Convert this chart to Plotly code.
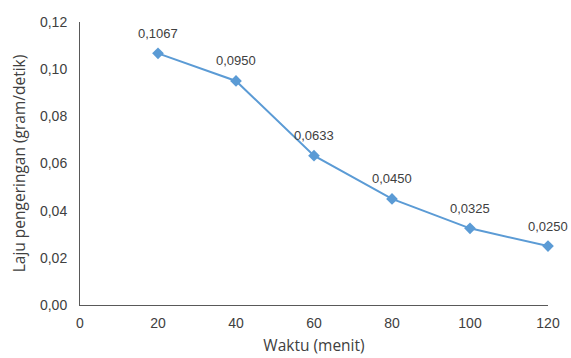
import plotly.graph_objects as go

waktu = [20, 40, 60, 80, 100, 120]
laju = [0.1067, 0.0950, 0.0633, 0.0450, 0.0325, 0.0250]
labels = ["0,1067", "0,0950", "0,0633", "0,0450", "0,0325", "0,0250"]
x_ticks = [0, 20, 40, 60, 80, 100, 120]
y_ticks = [0, 0.02, 0.04, 0.06, 0.08, 0.10, 0.12]

fig = go.Figure()
fig.add_trace(go.Scatter(
    x=waktu, y=laju, mode="lines+markers",
    line=dict(color="#5B9BD5", width=2),
    marker=dict(symbol="diamond", size=9, color="#5B9BD5"),
    cliponaxis=False, showlegend=False,
))
for xv, yv, t in zip(waktu, laju, labels):
    fig.add_annotation(x=xv, y=yv, text=t, showarrow=False, yshift=20,
                       font=dict(size=13, color="#404040", family="Arial"))
fig.update_layout(
    width=571, height=358,
    margin=dict(l=80, r=23, t=22, b=53),
    plot_bgcolor="white", paper_bgcolor="white",
    separators=",.",
    font=dict(family="Arial", color="#404040", size=14),
)
fig.update_xaxes(
    range=[0, 120], tickvals=x_ticks, automargin=False,
    showgrid=False, zeroline=False, showline=True, linecolor="#595959", linewidth=1,
    ticks="", ticklabelstandoff=5,
    title=dict(text="Waktu (menit)", font=dict(size=15.5, family="Open Sans"), standoff=10),
    tickfont=dict(size=14),
)
fig.update_yaxes(
    range=[0, 0.12], tickvals=y_ticks, tickformat=".2f", automargin=False,
    showgrid=False, zeroline=False, showline=True, linecolor="#595959", linewidth=1,
    ticks="", ticklabelstandoff=9,
    title=dict(text="Laju pengeringan (gram/detik)", font=dict(size=15.5, family="Open Sans"), standoff=10),
    tickfont=dict(size=14),
)
fig.write_html("out.html")
